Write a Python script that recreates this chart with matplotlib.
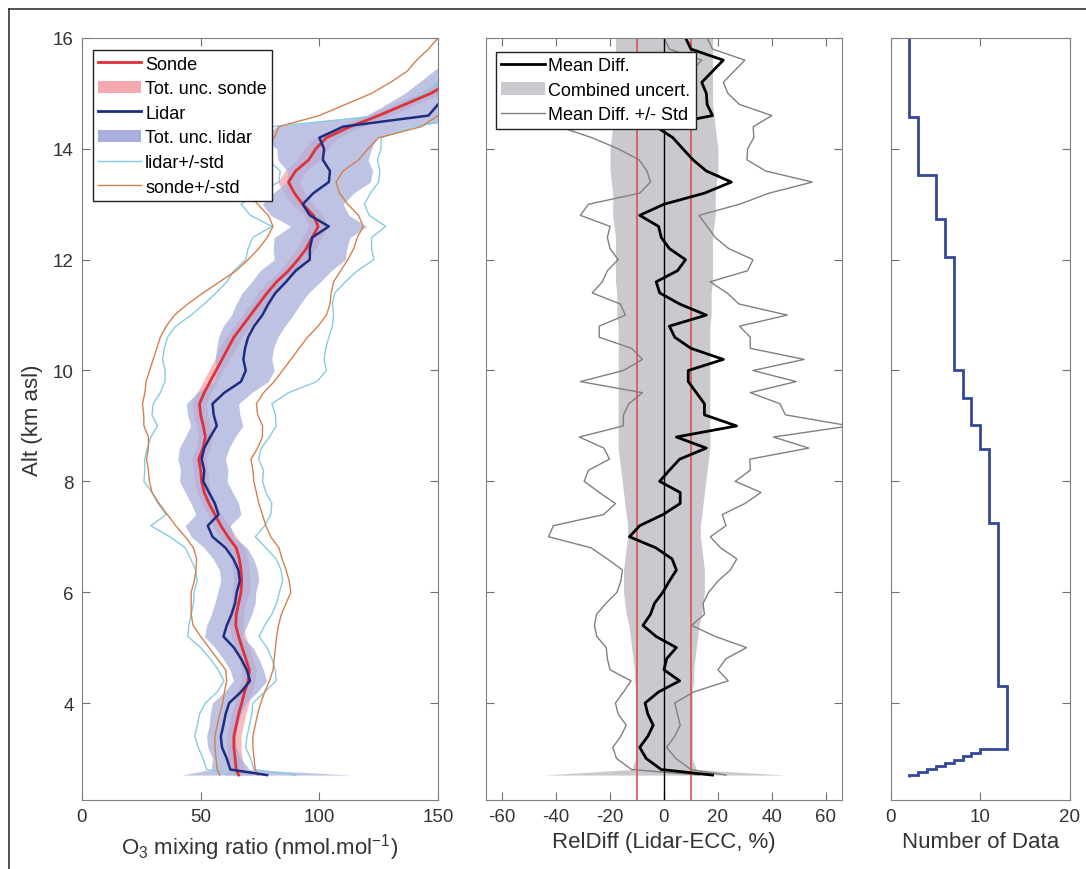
import numpy as np
import matplotlib
matplotlib.use("Agg")
import matplotlib.pyplot as plt
from matplotlib.lines import Line2D
from matplotlib.patches import Patch

plt.rcParams["font.family"] = ["Liberation Sans", "DejaVu Sans"]
plt.rcParams["mathtext.default"] = "regular"
plt.rcParams["axes.unicode_minus"] = False
plt.rcParams["font.size"] = 13

# altitude grid (km asl)
alt = np.round(np.r_[2.7, np.arange(2.8, 16.01, 0.2)], 2)

# O3 mixing ratio, nmol/mol
sonde = [66, 65, 64.5, 64, 64, 65, 66, 67.3, 68.5, 70,
         70.5, 69, 67.5, 66, 64.8, 65, 66, 67, 67.3, 67,
         66.3, 65, 61.5, 58.5, 56, 53.5, 51.5, 50.4, 50, 49.2,
         51, 52, 51.1, 50, 49.5, 51.5, 54, 56.5, 59, 61.5,
         64, 67.5, 71, 74.5, 78, 82, 87, 91, 94.5, 97,
         99.5, 97.5, 93, 89.5, 87, 90, 95.5, 98.5, 103, 113,
         125, 136, 147, 155, 162, 168, 174, 180]
lidar = [78, 62.5, 61, 59, 58.5, 59.6, 60.5, 62, 67, 70.8,
         69.4, 67, 64, 59.6, 61, 63, 64.5, 65.2, 66.5, 65.9,
         63.8, 60.5, 55, 53, 57.5, 56, 53.5, 51.1, 51.5, 50.4,
         51.5, 54, 56.8, 55.5, 55, 60, 67, 69, 68, 68.7,
         70, 72.5, 76, 78.5, 81.5, 86, 90, 96, 96, 97,
         104, 96, 93, 97.5, 104, 104.5, 101.5, 102, 100, 110,
         146, 150, 156, 162, 168, 174, 180, 186]
lidar_unc = [36, 8, 6, 6, 6, 6, 6.5, 7, 7, 7,
             7, 7.5, 8, 8, 8.5, 8.5, 8.5, 8, 8, 8,
             8.5, 9, 9, 9.5, 9.5, 10, 10, 10, 10, 10,
             10.5, 10.5, 11, 11, 11, 11.5, 11.5, 12, 12, 12,
             12.5, 13, 13, 13.5, 14, 14.5, 15, 15, 15.5, 16,
             16, 16.5, 17, 17, 17.5, 18, 19, 20, 24, 28,
             26, 22, 20, 20, 20, 20, 20, 20]
sonde_unc = [6, 3, 3, 3, 3, 3, 3, 3, 3, 3,
             3, 3, 3, 3, 3, 3, 3, 3.5, 3.5, 3.5,
             3.5, 3.5, 3.5, 3.5, 3, 3, 3, 3, 3, 3,
             3, 3, 3, 3, 3, 3, 3, 3, 3, 3.5,
             3.5, 3.5, 3.5, 3.5, 4, 4, 4, 4, 4, 4,
             4, 4, 4.5, 4.5, 4.5, 4.5, 5, 5, 5, 5,
             5, 5, 5, 5, 5, 5, 5, 5]
lidar_std = [12, 10, 10, 10, 11, 11, 11, 10, 10, 11,
             12, 13, 14, 15, 16, 17, 17.5, 18, 18, 18,
             18, 17, 18, 24, 22, 24, 24, 25, 25, 24,
             24, 25, 25, 26, 25, 27, 32, 34, 34, 34,
             34, 33, 30, 27, 25, 25, 26, 27, 26, 25,
             24, 25, 26, 24, 21, 21, 23, 24, 26, 30,
             20, 15, 12, 12, 12, 12, 12, 12]
sonde_std = [8, 8, 8, 8, 8, 8, 8, 8, 8.5, 9,
             10, 12, 14, 16, 18, 19, 20, 21, 20, 19,
             18, 18, 18, 19, 20, 21, 22, 22, 22, 22,
             23, 24, 25, 24, 24, 25, 27, 28, 29, 30,
             31, 32, 32, 30, 27, 24, 22, 21, 20, 19,
             19, 19, 19, 19, 20, 20, 21, 22, 22, 30,
             25, 25, 25, 25, 25, 27, 28, 30]

# relative difference lidar - ECC, %
reldiff = [18, -1, -6.6, -9, -6, -4, -6, -7, -2, 5.8,
           0, 1, 4.6, -2.9, -7.8, -5, -3.5, -0.4, 2, 4.6,
           3, -3, -12.8, -9, -0.4, 6, 6, -1.6, 2, 5.8,
           15.7, 4.6, 26.9, 15, 15, 12, 9, 9, 22, 10,
           4, 2, 15.7, 5.8, -1.6, -2.9, 5, 8, 2, -1,
           -2, -9, 0, 15, 25, 15.7, 10.8, 7, 3.3, -2.9,
           18, 16, 15.7, 14, 18, 22, 10, 8]
reldiff_std = [5, 11, 11, 10, 10, 10, 11, 11, 13, 18,
               20, 22, 26, 22, 18, 20, 18, 17, 18, 20,
               24, 24, 30, 32, 22, 24, 30, 28, 30, 26,
               38, 36, 42, 30, 28, 20, 40, 24, 30, 22,
               28, 26, 30, 22, 25, 20, 26, 25, 22, 20,
               18, 22, 28, 24, 30, 22, 20, 24, 30, 36,
               22, 12, 8, 8, 8, 8, 8, 8]
comb_unc = [45, 12, 10.5, 10.5, 10.5, 10.5, 10.5, 10.5, 10.5, 11,
            11, 11.5, 12, 12.5, 13, 14, 14.5, 15, 15, 15,
            14.5, 14, 13.5, 13.5, 14, 14.5, 15, 15.5, 16, 16.5,
            17, 17, 17, 17, 17, 17, 17, 17, 17, 17,
            17, 17, 17.5, 17.5, 17.5, 18, 18, 18, 18, 18,
            18.5, 19, 19, 19, 19.5, 20, 20, 20, 19.5, 19,
            18.5, 18, 18, 18, 18, 18, 18, 18]

# number of profiles per altitude bin
nd_edges = [2.66, 2.71, 2.76, 2.81, 2.86, 2.92, 2.97, 3.05, 3.10, 3.17, 4.31,
            7.25, 8.58, 9.01, 9.51, 10.01, 12.04, 12.73, 13.53, 14.57, 16.0]
nd_count = [2, 3, 4, 5, 6, 7, 8, 9, 10, 13, 12, 11, 10, 9, 8, 7, 6, 5, 3, 2]

sonde, lidar = np.array(sonde), np.array(lidar)
lidar_unc, sonde_unc = np.array(lidar_unc), np.array(sonde_unc)
lidar_std, sonde_std = np.array(lidar_std), np.array(sonde_std)
reldiff, reldiff_std, comb_unc = np.array(reldiff), np.array(reldiff_std), np.array(comb_unc)

c_sonde = "#e0303a"
c_lidar = "#1f2d80"
c_sonde_unc = "#f5aab2"
c_lidar_unc = "#a9afdc"
c_lstd = "#86cbe0"
c_sstd = "#d2804e"
c_txt = "#333333"

fig = plt.figure(figsize=(10.86, 8.7), dpi=100)
ax1 = fig.add_axes([0.0755, 0.0793, 0.3278, 0.8759])
ax2 = fig.add_axes([0.4475, 0.0793, 0.3278, 0.8759])
ax3 = fig.add_axes([0.8204, 0.0793, 0.1648, 0.8759])

for ax in (ax1, ax2, ax3):
    for s in ax.spines.values():
        s.set_color("#808080")
    ax.tick_params(direction="in", top=True, right=True, length=6, color="#707070",
                   labelcolor=c_txt, labelsize=13.5, pad=6)
    ax.set_ylim(2.25, 16)
    ax.set_yticks([4, 6, 8, 10, 12, 14, 16])

leg_kw = dict(loc="upper left", borderaxespad=0, fancybox=False, edgecolor="#222222",
              framealpha=1, borderpad=0.3, labelspacing=0.42, handlelength=2.4,
              handletextpad=0.2, fontsize=13)

# --- panel 1: ozone profiles
ax1.fill_betweenx(alt, sonde - sonde_unc, sonde + sonde_unc, color=c_sonde_unc, alpha=0.8, lw=0)
ax1.fill_betweenx(alt, lidar - lidar_unc, lidar + lidar_unc, color=c_lidar_unc, alpha=0.75, lw=0)
ax1.plot(lidar - lidar_std, alt, color=c_lstd, lw=1)
ax1.plot(lidar + lidar_std, alt, color=c_lstd, lw=1)
ax1.plot(sonde - sonde_std, alt, color=c_sstd, lw=1)
ax1.plot(sonde + sonde_std, alt, color=c_sstd, lw=1)
ax1.plot(sonde, alt, color=c_sonde, lw=2)
ax1.plot(lidar, alt, color=c_lidar, lw=1.8)
ax1.set_xlim(0, 150)
ax1.set_xticks([0, 50, 100, 150])
ax1.set_xlabel("O$_3$ mixing ratio (nmol.mol$^{-1}$)", color=c_txt, fontsize=16, labelpad=4)
ax1.set_ylabel("Alt (km asl)", color=c_txt, fontsize=16, labelpad=7)

h1 = [Line2D([], [], color=c_sonde, lw=2), Patch(fc=c_sonde_unc, ec="none"),
      Line2D([], [], color=c_lidar, lw=2), Patch(fc=c_lidar_unc, ec="none"),
      Line2D([], [], color=c_lstd, lw=1), Line2D([], [], color=c_sstd, lw=1)]
l1 = ["Sonde", "Tot. unc. sonde", "Lidar", "Tot. unc. lidar", "lidar+/-std", "sonde+/-std"]
leg = ax1.legend(h1, l1, bbox_to_anchor=(0.03, 0.984), **leg_kw)
leg.get_frame().set_linewidth(1)

# --- panel 2: relative difference
ax2.fill_betweenx(alt, -comb_unc, comb_unc, color="#c9cacd", lw=0)
ax2.plot(reldiff - reldiff_std, alt, color="#808080", lw=1)
ax2.plot(reldiff + reldiff_std, alt, color="#808080", lw=1)
ax2.axvline(-10, color="#d9534f", lw=1.2)
ax2.axvline(10, color="#d9534f", lw=1.2)
ax2.axvline(0, color="black", lw=1)
ax2.plot(reldiff, alt, color="black", lw=2)
ax2.set_xlim(-66, 66)
ax2.set_xticks([-60, -40, -20, 0, 20, 40, 60])
ax2.tick_params(labelleft=False)
ax2.set_xlabel("RelDiff (Lidar-ECC, %)", color=c_txt, fontsize=16, labelpad=4)

h2 = [Line2D([], [], color="black", lw=2), Patch(fc="#c9cacd", ec="none"),
      Line2D([], [], color="#808080", lw=1)]
l2 = ["Mean Diff.", "Combined uncert.", "Mean Diff. +/- Std"]
leg2 = ax2.legend(h2, l2, bbox_to_anchor=(0.028, 0.982), **leg_kw)
leg2.get_frame().set_linewidth(1)

# --- panel 3: number of data
ax3.stairs(nd_count, nd_edges, orientation="horizontal", baseline=None, color="#34489a", lw=2)
ax3.set_xlim(0, 20)
ax3.set_xticks([0, 10, 20])
ax3.tick_params(labelleft=False)
ax3.set_xlabel("Number of Data", color=c_txt, fontsize=16, labelpad=4)

# outer frame
fig.add_artist(Line2D([9 / 1086, 9 / 1086], [0, 1 - 10 / 870], transform=fig.transFigure,
                      color=c_txt, lw=1.2))
fig.add_artist(Line2D([9 / 1086, 1], [1 - 10 / 870, 1 - 10 / 870], transform=fig.transFigure,
                      color=c_txt, lw=1.2))

fig.savefig("out.png", dpi=100)
